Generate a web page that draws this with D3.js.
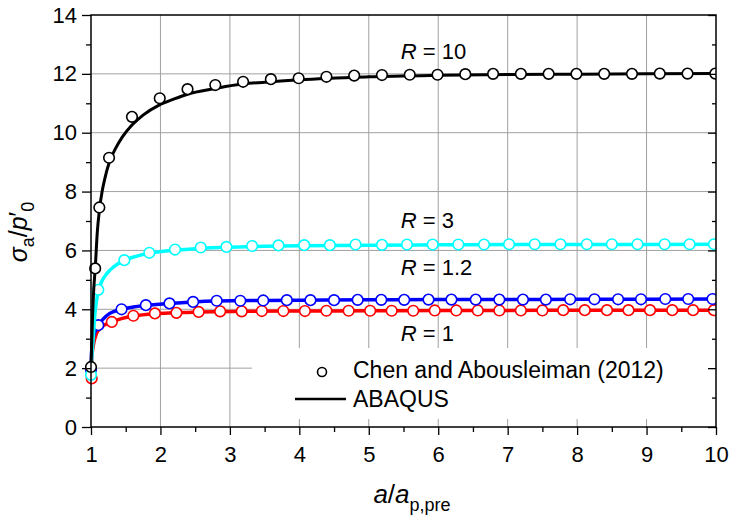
<!DOCTYPE html>
<html>
<head>
<meta charset="utf-8">
<script src="https://cdn.jsdelivr.net/npm/d3@7"></script>
<style>
  body { margin: 0; background: #fff; }
  svg { font-family: "Liberation Sans", Arial, sans-serif; }
</style>
</head>
<body>
<svg width="733" height="518"></svg>
<script>
// Chen and Abousleiman (2012) - open circles
var ptsR10x = [1.0, 1.06, 1.12, 1.26, 1.59, 1.99, 2.39, 2.79, 3.19, 3.59, 3.99, 4.39, 4.79, 5.19, 5.59, 5.99, 6.39, 6.79, 7.19, 7.59, 7.99, 8.39, 8.79, 9.19, 9.59, 9.99];
var ptsR10y = [2.04, 5.39, 7.46, 9.15, 10.54, 11.17, 11.48, 11.62, 11.73, 11.82, 11.85, 11.9, 11.94, 11.96, 11.97, 11.97, 11.99, 12.0, 12.0, 12.0, 12.0, 12.0, 12.0, 12.01, 12.01, 12.01];

var ptsR3x = [1.0, 1.105, 1.48, 1.84, 2.21, 2.58, 2.95, 3.32, 3.70, 4.07, 4.44, 4.81, 5.19, 5.55, 5.92, 6.29, 6.66, 7.02, 7.39, 7.76, 8.14, 8.50, 8.87, 9.26, 9.62, 9.97];
var ptsR3y = [1.77, 4.66, 5.67, 5.92, 6.03, 6.10, 6.12, 6.15, 6.17, 6.18, 6.18, 6.20, 6.19, 6.20, 6.20, 6.20, 6.20, 6.21, 6.21, 6.21, 6.21, 6.21, 6.21, 6.21, 6.21, 6.21];

var ptsR12x = [1.0, 1.105, 1.44, 1.79, 2.13, 2.47, 2.81, 3.15, 3.48, 3.82, 4.16, 4.50, 4.84, 5.18, 5.51, 5.86, 6.19, 6.54, 6.88, 7.22, 7.55, 7.90, 8.25, 8.59, 8.92, 9.27, 9.60, 9.95];
var ptsR12y = [1.95, 3.46, 4.00, 4.14, 4.20, 4.25, 4.29, 4.29, 4.30, 4.31, 4.31, 4.31, 4.32, 4.32, 4.32, 4.33, 4.33, 4.33, 4.33, 4.33, 4.33, 4.34, 4.34, 4.34, 4.34, 4.35, 4.35, 4.35];

var ptsR1x = [1.01, 1.30, 1.61, 1.92, 2.23, 2.55, 2.86, 3.17, 3.46, 3.77, 4.08, 4.39, 4.71, 5.02, 5.33, 5.64, 5.95, 6.26, 6.57, 6.88, 7.19, 7.50, 7.80, 8.11, 8.43, 8.74, 9.05, 9.37, 9.67, 9.97];
var ptsR1y = [1.65, 3.57, 3.78, 3.86, 3.88, 3.91, 3.93, 3.93, 3.94, 3.94, 3.94, 3.95, 3.95, 3.95, 3.95, 3.95, 3.96, 3.96, 3.96, 3.96, 3.96, 3.96, 3.97, 3.97, 3.97, 3.97, 3.97, 3.97, 3.97, 3.97];

// ABAQUS - solid lines
var lineR10x = [1, 1.02, 1.04, 1.06, 1.09, 1.12, 1.16, 1.2, 1.26, 1.35, 1.45, 1.59, 1.75, 1.98, 2.2, 2.38, 2.79, 3.2, 3.6, 4, 5, 6, 7, 8, 9, 10];
var lineR10y = [2.0, 3.6, 4.7, 5.35, 6.6, 7.35, 8.0, 8.45, 8.97, 9.45, 9.85, 10.26, 10.6, 10.94, 11.15, 11.3, 11.5, 11.66, 11.73, 11.8, 11.9, 11.95, 11.98, 11.99, 12.0, 12.01];

var lineR3x = [1, 1.015, 1.03, 1.057, 1.08, 1.105, 1.15, 1.23, 1.33, 1.48, 1.65, 1.84, 2.21, 2.58, 3, 3.5, 4, 5, 6, 7, 8, 9, 10];
var lineR3y = [1.75, 2.5, 2.95, 3.86, 4.3, 4.6, 4.92, 5.22, 5.45, 5.66, 5.8, 5.9, 6.01, 6.07, 6.11, 6.14, 6.16, 6.18, 6.19, 6.2, 6.2, 6.2, 6.21];

var lineR12x = [1, 1.01, 1.03, 1.06, 1.105, 1.18, 1.27, 1.44, 1.61, 1.79, 2.13, 2.47, 2.81, 3.5, 4, 5, 6, 7, 8, 9, 10];
var lineR12y = [1.9, 2.6, 3.0, 3.25, 3.46, 3.68, 3.86, 4.0, 4.08, 4.13, 4.2, 4.25, 4.28, 4.3, 4.31, 4.32, 4.33, 4.33, 4.34, 4.34, 4.35];

var lineR1x = [1, 1.01, 1.03, 1.08, 1.154, 1.3, 1.45, 1.61, 1.92, 2.23, 2.55, 3.17, 4, 5, 6, 7, 8, 9, 10];
var lineR1y = [1.65, 2.3, 2.72, 3.18, 3.4, 3.57, 3.69, 3.77, 3.85, 3.88, 3.91, 3.93, 3.94, 3.95, 3.96, 3.96, 3.97, 3.97, 3.97];

var xTicks = [1, 2, 3, 4, 5, 6, 7, 8, 9, 10];
var yTicks = [0, 2, 4, 6, 8, 10, 12, 14];

var series = [
  {name: "1",   color: "#ff0000", lx: lineR1x,  ly: lineR1y,  px: ptsR1x,  py: ptsR1y},
  {name: "1.2", color: "#0000ff", lx: lineR12x, ly: lineR12y, px: ptsR12x, py: ptsR12y},
  {name: "3",   color: "#00ffff", lx: lineR3x,  ly: lineR3y,  px: ptsR3x,  py: ptsR3y},
  {name: "10",  color: "#000000", lx: lineR10x, ly: lineR10y, px: ptsR10x, py: ptsR10y}
];

var margin = {top: 15, right: 17, bottom: 91, left: 91},
    width = 733 - margin.left - margin.right,
    height = 518 - margin.top - margin.bottom;

var svg = d3.select('svg');
var g = svg.append('g').attr('transform', 'translate(' + margin.left + ',' + margin.top + ')');

var x = d3.scaleLinear().domain([1, 10]).range([0, width]);
var y = d3.scaleLinear().domain([0, 14]).range([height, 0]);

// grid
g.append('g').selectAll('line')
    .data(xTicks.slice(1, -1))
    .enter().append('line')
    .attr('x1', function(d) { return x(d); })
    .attr('x2', function(d) { return x(d); })
    .attr('y1', 0).attr('y2', height)
    .attr('stroke', '#a0a0a0').attr('stroke-width', 1);
g.append('g').selectAll('line')
    .data(yTicks.slice(1, -1))
    .enter().append('line')
    .attr('x1', 0).attr('x2', width)
    .attr('y1', function(d) { return y(d); })
    .attr('y2', function(d) { return y(d); })
    .attr('stroke', '#a0a0a0').attr('stroke-width', 1);

// legend background hides the grid
g.append('rect')
    .attr('x', 161).attr('y', 333)
    .attr('width', width - 161).attr('height', 71)
    .attr('fill', '#fff');

svg.append('clipPath').attr('id', 'clip')
  .append('rect').attr('x', -12).attr('y', -10).attr('width', width + 12).attr('height', height + 20);

var plot = g.append('g').attr('clip-path', 'url(#clip)');

var line = d3.line()
    .x(function(d) { return x(d[0]); })
    .y(function(d) { return y(d[1]); })
    .curve(d3.curveMonotoneX);

series.forEach(function(s) {
  var ld = s.lx.map(function(v, i) { return [v, s.ly[i]]; });
  var pd = s.px.map(function(v, i) { return [v, s.py[i]]; });
  plot.append('path')
      .datum(ld)
      .attr('d', line)
      .attr('fill', 'none')
      .attr('stroke', s.color)
      .attr('stroke-width', s.name == "10" ? 3 : 3.5);
  plot.append('g').selectAll('circle')
      .data(pd)
      .enter().append('circle')
      .attr('cx', function(d) { return x(d[0]); })
      .attr('cy', function(d) { return y(d[1]); })
      .attr('r', 5.3)
      .attr('fill', '#fff')
      .attr('stroke', s.color)
      .attr('stroke-width', 1.6);
});

// frame
g.append('rect')
    .attr('width', width).attr('height', height)
    .attr('fill', 'none').attr('stroke', '#000').attr('stroke-width', 1.5);

var xAxis = g.append('g').attr('transform', 'translate(0,' + height + ')')
    .call(d3.axisBottom(x).tickValues(xTicks).tickSize(8).tickFormat(d3.format('d')));
var xMinor = g.append('g').attr('transform', 'translate(0,' + height + ')')
    .call(d3.axisBottom(x).tickValues(d3.range(1.5, 10, 1)).tickSize(5).tickFormat(''));
var yAxis = g.append('g')
    .call(d3.axisLeft(y).tickValues(yTicks).tickSize(9).tickPadding(5));
var yMinor = g.append('g')
    .call(d3.axisLeft(y).tickValues(d3.range(1, 14, 2)).tickSize(5).tickFormat(''));
var yRight = g.append('g').attr('transform', 'translate(' + width + ',0)')
    .call(d3.axisLeft(y).tickValues(yTicks).tickSize(8).tickFormat(''));
var yRightMinor = g.append('g').attr('transform', 'translate(' + width + ',0)')
    .call(d3.axisLeft(y).tickValues(d3.range(1, 14, 2)).tickSize(4).tickFormat(''));

[xAxis, xMinor, yAxis, yMinor, yRight, yRightMinor].forEach(function(a) {
  a.select('.domain').remove();
  a.selectAll('line').attr('stroke', '#000').attr('stroke-width', 1.3);
  a.selectAll('text').attr('font-size', 22).attr('fill', '#000')
      .attr('font-family', '"Liberation Sans", Arial, sans-serif');
});
xAxis.selectAll('text').attr('y', 35).attr('dy', 0);

// curve labels
var rLabels = [
  {t: "10", v: 12.0, dy: -15},
  {t: "3", v: 6.21, dy: -16},
  {t: "1.2", v: 4.33, dy: -24.5},
  {t: "1", v: 3.96, dy: 31}
];
rLabels.forEach(function(r) {
  var tx = g.append('text')
      .attr('x', x(5.46)).attr('y', y(r.v) + r.dy)
      .attr('font-size', 22);
  tx.append('tspan').attr('font-style', 'italic').text('R');
  tx.append('tspan').text(' = ' + r.t);
});

// legend
g.append('circle')
    .attr('cx', 231).attr('cy', 357).attr('r', 4.5)
    .attr('fill', '#fff').attr('stroke', '#000').attr('stroke-width', 1.6);
g.append('text').attr('x', 262).attr('y', 363).attr('font-size', 23)
    .text('Chen and Abousleiman (2012)');
g.append('line')
    .attr('x1', 204).attr('x2', 255).attr('y1', 384).attr('y2', 384)
    .attr('stroke', '#000').attr('stroke-width', 2.5);
g.append('text').attr('x', 262).attr('y', 392).attr('font-size', 23)
    .text('ABAQUS');

// axis titles
var xt = svg.append('text')
    .attr('x', 412).attr('y', 503)
    .attr('text-anchor', 'middle')
    .attr('font-size', 26);
xt.append('tspan').attr('font-style', 'italic').text('a');
xt.append('tspan').text('/');
xt.append('tspan').attr('font-style', 'italic').text('a');
xt.append('tspan').attr('font-size', 18).attr('dy', 8).text('p,pre');

var yt = svg.append('text')
    .attr('transform', 'translate(27,232) rotate(-90)')
    .attr('text-anchor', 'middle')
    .attr('font-size', 25);
yt.append('tspan').attr('font-style', 'italic').text('σ');
yt.append('tspan').attr('font-size', 18).attr('dy', 7).text('a');
yt.append('tspan').attr('dy', -7).text('/');
yt.append('tspan').attr('font-style', 'italic').text('p');
yt.append('tspan').text('′');
yt.append('tspan').attr('font-size', 18).attr('dy', 7).text('0');
</script>
</body>
</html>
